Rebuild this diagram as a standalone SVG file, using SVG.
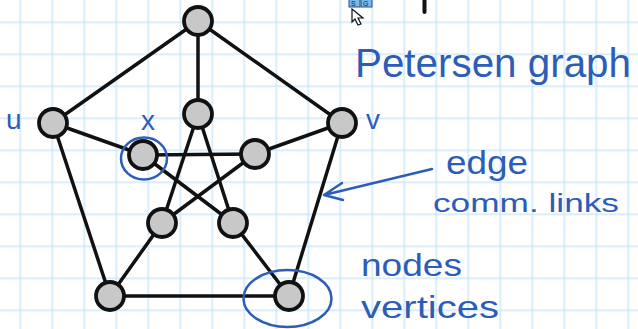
<svg xmlns="http://www.w3.org/2000/svg" width="638" height="329" viewBox="0 0 638 329">
<defs>
<style>
.edge{stroke:#111;stroke-width:3.5;stroke-linecap:round;fill:none}
.node circle{fill:#c8c8c8;stroke:#111;stroke-width:3.8}
.ink{fill:#2c5db8;font-family:"Liberation Sans","DejaVu Sans",sans-serif}
.inkline{stroke:#2c5db8;stroke-width:2.5;fill:none;stroke-linecap:round;stroke-linejoin:round}
</style>
<pattern id="g" x="19.5" y="21.5" width="32" height="32" patternUnits="userSpaceOnUse">
<path d="M0 0V32M0 0H32" stroke="#cde7fa" stroke-width="3" fill="none"/>
</pattern>
</defs>
<rect width="638" height="329" fill="#fff"/>
<rect width="638" height="329" fill="url(#g)"/>
<g id="toolbar">
<rect x="349" y="-2" width="11" height="9" fill="#7ab8ec" stroke="#2a4f80" stroke-width="1"/>
<rect x="361" y="-2" width="11" height="9" fill="#7ab8ec" stroke="#2a4f80" stroke-width="1"/>
<text x="351" y="6" font-size="7" font-family="Liberation Sans,sans-serif" fill="#123">S</text>
<text x="363" y="6" font-size="7" font-family="Liberation Sans,sans-serif" fill="#123">G</text>
<path d="M352 9L352 22L355 19L358 25L361 24L358 18L363 18Z" fill="#fff" stroke="#111" stroke-width="1.2"/>
<path d="M424.5 0V12" stroke="#111" stroke-width="4" stroke-linecap="round"/>
</g>
<g id="connectors">
<path class="edge" d="M198 21L53 123"/>
<path class="edge" d="M198 21L342 123"/>
<path class="edge" d="M53 123L110 296"/>
<path class="edge" d="M342 123L289 296"/>
<path class="edge" d="M110 296L289 296"/>
<path class="edge" d="M198 21L198 114"/>
<path class="edge" d="M53 123L143 155"/>
<path class="edge" d="M342 123L255 154"/>
<path class="edge" d="M110 296L162 223"/>
<path class="edge" d="M289 296L233 223"/>
<path class="edge" d="M198 114L162 223"/>
<path class="edge" d="M198 114L233 223"/>
<path class="edge" d="M143 155L255 154"/>
<path class="edge" d="M143 155L233 223"/>
<path class="edge" d="M255 154L162 223"/>
</g>
<g id="n-top" class="node"><circle cx="198" cy="21" r="14"/></g>
<g id="n-u" class="node"><circle cx="53" cy="123" r="14"/></g>
<g id="n-v" class="node"><circle cx="342" cy="123" r="14"/></g>
<g id="n-bl" class="node"><circle cx="110" cy="296" r="14"/></g>
<g id="n-br" class="node"><circle cx="289" cy="296" r="14"/></g>
<g id="n-itop" class="node"><circle cx="198" cy="114" r="14"/></g>
<g id="n-x" class="node"><circle cx="143" cy="155" r="14"/></g>
<g id="n-ir" class="node"><circle cx="255" cy="154" r="14"/></g>
<g id="n-ill" class="node"><circle cx="162" cy="223" r="14"/></g>
<g id="n-ilr" class="node"><circle cx="233" cy="223" r="14"/></g>
<g id="annotations">
<text class="ink" x="6" y="129" font-size="28">u</text>
<text class="ink" x="141" y="130" font-size="28">x</text>
<text class="ink" x="366" y="129" font-size="28">v</text>
<text class="ink" x="355" y="77" font-size="40" textLength="276" lengthAdjust="spacingAndGlyphs">Petersen graph</text>
<text class="ink" x="446" y="174" font-size="34" textLength="82" lengthAdjust="spacingAndGlyphs">edge</text>
<text class="ink" x="433" y="212" font-size="26" textLength="186" lengthAdjust="spacingAndGlyphs">comm. links</text>
<text class="ink" x="361" y="276" font-size="32" textLength="101" lengthAdjust="spacingAndGlyphs">nodes</text>
<text class="ink" x="361" y="318" font-size="32" textLength="138" lengthAdjust="spacingAndGlyphs">vertices</text>
<path class="inkline" d="M432 169L324 195M342 183L324 195L343 200"/>
<ellipse class="inkline" cx="144" cy="158.5" rx="23" ry="21"/>
<ellipse class="inkline" cx="287.5" cy="298.5" rx="44" ry="28.5"/>
</g>
</svg>
